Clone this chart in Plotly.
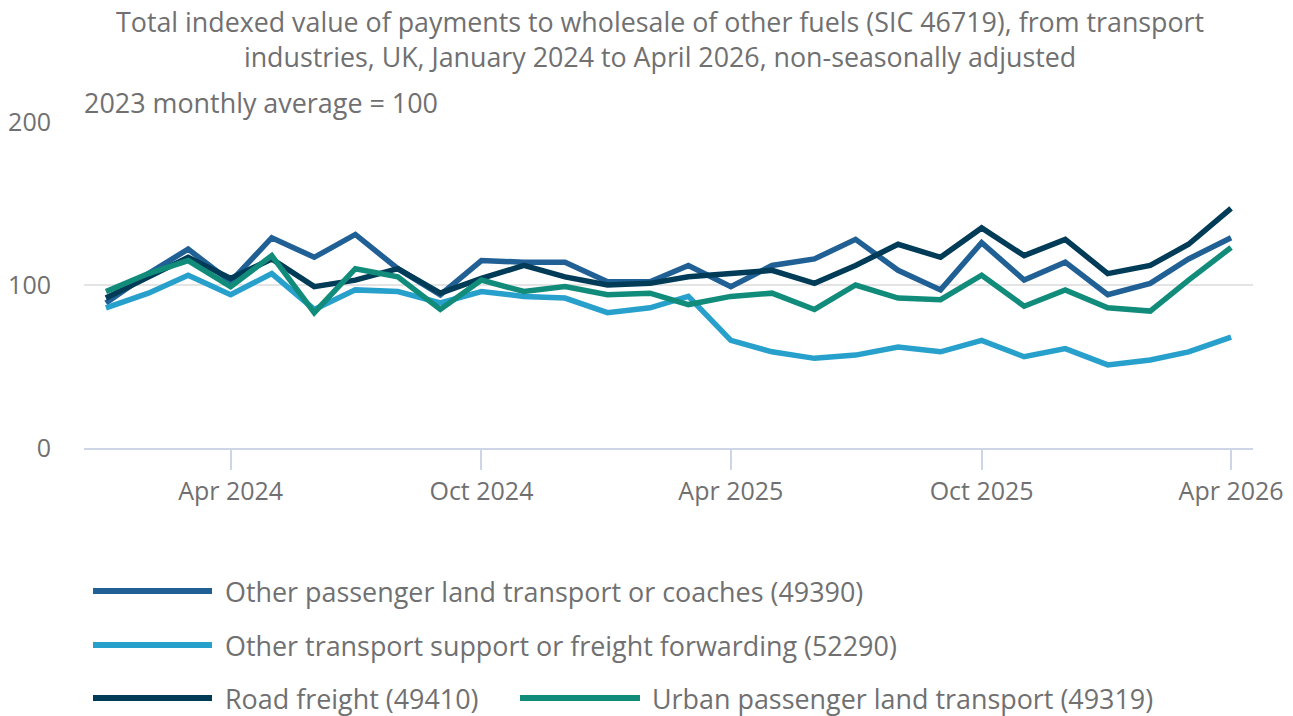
import plotly.graph_objects as go
import pandas as pd

months = pd.date_range("2024-01-01", "2026-04-01", freq="MS")

series_names = [
    "Other passenger land transport or coaches (49390)",
    "Other transport support or freight forwarding (52290)",
    "Road freight (49410)",
    "Urban passenger land transport (49319)",
]
colors = ["#206095", "#27a0cc", "#003c57", "#118c7b"]

passenger_coaches = [89, 107, 122, 102, 129, 117, 131, 110, 94, 115, 114, 114, 102, 102,
                     112, 99, 112, 116, 128, 109, 97, 126, 103, 114, 94, 101, 116, 129]
transport_support = [86, 95, 106, 94, 107, 85, 97, 96, 89, 96, 93, 92, 83, 86,
                     93, 66, 59, 55, 57, 62, 59, 66, 56, 61, 51, 54, 59, 68]
road_freight = [92, 105, 117, 104, 116, 99, 103, 110, 95, 104, 112, 105, 100, 101,
                105, 107, 109, 101, 112, 125, 117, 135, 118, 128, 107, 112, 125, 147]
urban_passenger = [96, 107, 115, 99, 118, 83, 110, 105, 85, 103, 96, 99, 94, 95,
                   88, 93, 95, 85, 100, 92, 91, 106, 87, 97, 86, 84, 103, 123]

values = [passenger_coaches, transport_support, road_freight, urban_passenger]

TEXT = "#707071"
FONT = "Open Sans"

fig = go.Figure()
for name, vals, col in zip(series_names, values, colors):
    fig.add_trace(go.Scatter(x=months, y=vals, mode="lines", name=name,
                             line=dict(color=col, width=5.5), showlegend=False))

W, H = 1293, 716
ml, mr, mt, mb = 84, 40, 122, 268
pw = W - ml - mr
ph = H - mt - mb

def px_x(x):
    return (x - ml) / pw

def px_y(y):
    return (H - mb - y) / ph

# custom legend (swatch + label), layout only
legend_items = [
    (0, 93, 212, 223, 591),
    (1, 93, 212, 223, 645),
    (2, 93, 212, 223, 698),
    (3, 520, 640, 650, 698),
]
shapes = []
annotations = []
for idx, x0, x1, xt, yc in legend_items:
    shapes.append(dict(type="line", xref="paper", yref="paper",
                       x0=px_x(x0), x1=px_x(x1), y0=px_y(yc), y1=px_y(yc),
                       line=dict(color=colors[idx], width=6)))
    annotations.append(dict(text=series_names[idx], xref="paper", yref="paper",
                            x=px_x(xt), y=px_y(yc), xanchor="left", yanchor="middle",
                            showarrow=False, font=dict(family=FONT, size=26.9, color=TEXT)))

annotations.append(dict(text="2023 monthly average = 100", xref="paper", yref="paper",
                        x=px_x(82), y=px_y(103), xanchor="left", yanchor="middle",
                        showarrow=False, font=dict(family=FONT, size=26.9, color=TEXT)))

annotations.append(dict(
    text="Total indexed value of payments to wholesale of other fuels (SIC 46719), from transport<br>"
         "industries, UK, January 2024 to April 2026, non-seasonally adjusted",
    xref="paper", yref="paper", x=px_x(660), y=px_y(38.5),
    xanchor="center", yanchor="middle", align="center", showarrow=False,
    font=dict(family=FONT, size=26.8, color=TEXT)))

fig.update_layout(
    width=W, height=H,
    margin=dict(l=ml, r=mr, t=mt, b=mb),
    paper_bgcolor="white", plot_bgcolor="white",
    font=dict(family=FONT, color=TEXT),
    xaxis=dict(
        type="date", automargin=False,
        range=["2023-12-16", "2026-04-17"],
        tick0="2024-04-01", dtick="M6", tickformat="%b %Y",
        showgrid=False, showline=True, linecolor="#cdd5e6", linewidth=2,
        ticks="outside", ticklen=20, tickwidth=2, tickcolor="#cdd5e6",
        tickfont=dict(family=FONT, size=25, color=TEXT),
        zeroline=False,
    ),
    yaxis=dict(
        automargin=False,
        range=[0, 200], tickvals=[0, 100, 200],
        showgrid=True, gridcolor="#e4e4e4", gridwidth=2,
        zeroline=False, showline=False, ticks="",
        ticklabelstandoff=32,
        tickfont=dict(family=FONT, size=25, color=TEXT),
    ),
    shapes=shapes,
    annotations=annotations,
)

fig.write_html("out.html", config={"displayModeBar": False},
               post_script="document.body.style.margin='0';document.body.style.padding='0';")
